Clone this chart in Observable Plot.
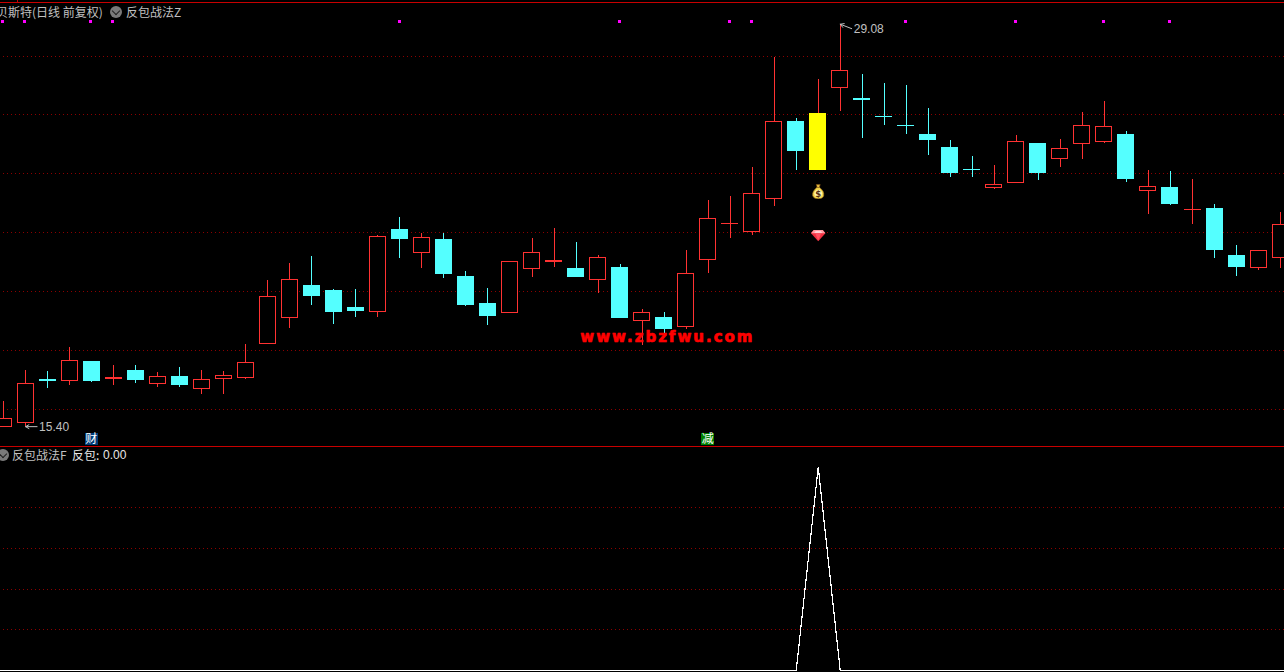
<!DOCTYPE html>
<html><head><meta charset="utf-8">
<script src="https://cdn.jsdelivr.net/npm/d3@7"></script>
<script src="https://cdn.jsdelivr.net/npm/@observablehq/plot@0.6"></script>
<style>
html,body{margin:0;padding:0;background:#000;overflow:hidden}
#stage{position:relative;width:1284px;height:672px;background:#000;overflow:hidden;font-family:"Noto Sans CJK SC","Noto Sans",sans-serif}
#stage svg{position:absolute;left:0;display:block}
.lbl{position:absolute;font-size:12px;line-height:14px;color:#c0c0c0;white-space:pre}
.sep{position:absolute;background:#c80000}
.knob{position:absolute;width:12px;height:12px;border-radius:50%;background:#7a7a7a}
.knob i{position:absolute;left:3px;top:1.5px;width:5px;height:5px;border-right:1px solid #222;border-bottom:1px solid #222;transform:rotate(45deg)}
</style></head><body><div id="stage"></div>
<script>
// Daily prices
const openPrice = [15.39,15.53,17.00,16.95,17.62,17.02,17.31,16.85,17.11,16.68,17.02,17.05,18.21,19.09,20.20,20.03,19.45,19.30,22.10,21.30,21.76,20.50,19.59,19.26,20.76,21.00,20.78,20.39,20.81,18.99,19.11,18.79,21.07,22.29,22.02,23.14,25.77,26.05,26.91,26.56,25.94,25.64,25.33,24.89,24.14,23.51,23.68,25.03,24.50,25.01,25.08,25.33,23.41,23.53,22.77,22.82,21.22,20.79,21.13];
const closePrice = [15.66,16.85,16.94,17.63,16.94,17.05,16.97,17.09,16.80,16.99,17.12,17.56,19.81,20.39,19.82,19.28,19.32,21.85,21.76,21.81,20.57,19.52,19.15,21.00,21.30,21.03,20.47,21.13,19.08,19.26,18.70,20.59,22.46,22.30,23.31,25.76,24.75,24.11,27.49,26.49,25.91,25.60,25.13,24.01,24.11,23.62,25.08,24.01,24.84,25.62,25.59,23.80,23.55,22.95,22.78,21.39,20.81,21.37,22.26];
const highPrice = [16.26,17.31,17.28,18.09,17.62,17.48,17.48,17.24,17.41,17.31,17.28,18.19,20.37,20.95,21.18,20.06,20.06,21.90,22.51,21.97,21.97,20.67,20.10,21.01,21.80,22.14,21.66,21.22,20.91,19.38,19.28,21.39,23.09,23.22,24.21,27.95,25.88,27.20,29.08,27.37,27.07,27.00,26.22,25.13,24.58,24.28,25.30,25.03,25.16,26.08,26.45,25.43,24.11,24.07,23.80,22.95,21.56,21.39,22.68];
const lowPrice = [15.39,15.40,16.71,16.80,16.90,16.80,16.87,16.73,16.73,16.49,16.49,17.00,18.21,18.74,19.52,18.87,19.11,19.11,21.12,20.78,20.44,19.48,18.84,19.26,20.47,20.81,20.47,19.93,19.08,18.16,18.53,18.70,20.61,21.80,21.90,22.88,24.11,24.11,26.11,25.20,25.64,25.33,24.62,23.87,23.87,23.46,23.68,23.77,24.21,24.48,25.03,23.70,22.61,22.92,22.27,21.12,20.50,20.71,20.78];
// index of the session painted yellow
const highlightDay = 37;
// lower pane: 反包 signal, session -1 to 59
const signal = [0,0,0,0,0,0,0,0,0,0,0,0,0,0,0,0,0,0,0,0,0,0,0,0,0,0,0,0,0,0,0,0,0,0,0,0,0,0,1,0,0,0,0,0,0,0,0,0,0,0,0,0,0,0,0,0,0,0,0,0,0];
const priceGrid = [16,18,20,22,24,26,28];
const signalGrid = [0.2,0.4,0.6,0.8];
const markerDays = [0,1,4,5,18,28,33,34,41,46,50,53];
const markerPrice = 29.16;
const tags = [{day:4,text:"财",bg:"#003c78"},{day:32,text:"减",bg:"#008000"}];
const tagPrice = 14.98;
const extremes = [{day:38,price:29.08,label:"29.08",labelPrice:28.91},{day:1,price:15.40,label:"15.40",labelPrice:15.37}];
const watermark = "www.zbzfwu.com";

const RED="#ff3232", CYAN="#54ffff", YEL="#ffff00", GRID="#8c0000", GREY="#c0c0c0";
const candles = openPrice.map((o,i)=>({i,open:o,close:closePrice[i],high:highPrice[i],low:lowPrice[i],up:closePrice[i]>=o}));
const isYel = d=>d.i===highlightDay;
const hollow = candles.filter(d=>d.up);
const filled = candles.filter(d=>!d.up && !isYel(d));
const yellow = candles.filter(isYel);
const crisp = {shapeRendering:"crispEdges"};
const xDomain = [-0.1408,58.178];
const gridStart = -0.00454;

const bagSvg = `<svg xmlns='http://www.w3.org/2000/svg' viewBox='0 0 12 15'><path d='M4 0.5h4l-1 3h-2z' fill='#e8c040' stroke='#7a4a10' stroke-width='.6'/><path d='M4.5 3.5h3C10.5 6 12 8.5 11.5 11.5 11 14 8.5 14.7 6 14.7S1 14 .5 11.5C0 8.5 1.5 6 4.5 3.5z' fill='#f4d84c' stroke='#9a6a20' stroke-width='.7'/><ellipse cx='6' cy='9.4' rx='3.8' ry='3.6' fill='#fff6b0'/><text x='6' y='12.4' font-size='8.5' font-weight='bold' text-anchor='middle' font-family='DejaVu Sans' fill='#5a3010'>$</text></svg>`;
const gemSvg = `<svg xmlns='http://www.w3.org/2000/svg' viewBox='0 0 15 12'><path d='M3 .5h9l2.7 3.4L7.5 11.8.3 3.9z' fill='#f03040'/><path d='M3 .5h9l2.7 3.4H.3z' fill='#ff9aa0'/><path d='M4.5 3.9h6L7.5 11z' fill='#ff5060'/><path d='M5 1.5h5l1.5 2h-8z' fill='#ffffff' opacity='.55'/></svg>`;
const uri = s=>"data:image/svg+xml;utf8,"+encodeURIComponent(s);
const icons = [{day:highlightDay,price:23.39,src:uri(bagSvg),w:13,h:15},{day:highlightDay,price:21.90,src:uri(gemSvg),w:15,h:12}];

const upperPane = Plot.plot({
  width:1284,height:447,margin:0,
  style:{background:"#000"},
  x:{axis:null,domain:xDomain,range:[0,1284]},
  y:{axis:null,domain:[16,28],range:[408.5,55.5]},
  marks:[
    Plot.ruleY(priceGrid,{x1:gridStart,x2:58.2,stroke:GRID,strokeDasharray:"1,3",...crisp}),
    Plot.ruleX(filled,{x:"i",y1:"low",y2:"high",stroke:CYAN,...crisp}),
    Plot.ruleX(hollow,{x:"i",y1:"low",y2:"high",stroke:RED,...crisp}),
    Plot.ruleX(yellow,{x:"i",y1:"low",y2:"high",stroke:RED,...crisp}),
    Plot.rect(hollow,{x1:d=>d.i-0.363,x2:d=>d.i+0.363,y1:"open",y2:"close",fill:"#000",stroke:RED,...crisp}),
    Plot.rect(filled,{x1:d=>d.i-0.386,x2:d=>d.i+0.386,y1:"open",y2:"close",fill:CYAN,...crisp}),
    Plot.rect(yellow,{x1:d=>d.i-0.386,x2:d=>d.i+0.386,y1:"open",y2:"close",fill:YEL,...crisp}),
    Plot.dot(markerDays,{x:d=>d,y:()=>markerPrice,dx:-0.8,symbol:"square",r:1.75,fill:"#ff00ff",...crisp}),
    Plot.image(icons,{x:"day",y:"price",src:"src",width:"w",height:"h"}),
    Plot.arrow(extremes,{x1:d=>d.day+0.52,y1:d=>d.price-(d.day===38?0.15:0),x2:"day",y2:"price",bend:0,stroke:GREY,strokeWidth:1,headLength:6}),
    Plot.text(extremes,{x:"day",y:"labelPrice",dx:13.5,text:"label",textAnchor:"start",fill:GREY,fontSize:12,fontFamily:"Liberation Sans"}),
    Plot.dot(tags,{x:"day",y:()=>tagPrice,dx:-0.4,symbol:"square",r:7.3,fill:"bg",...crisp}),
    Plot.text(tags,{x:"day",y:()=>tagPrice,dx:-0.4,text:"text",fill:"#fff",fontSize:12,fontFamily:"Noto Sans CJK SC"}),
    Plot.text([watermark],{x:()=>30.15,y:()=>18.45,text:d=>d,fill:"#ff0000",stroke:"#ff0000",strokeWidth:0.7,fontSize:15,fontWeight:"bold",fontFamily:"DejaVu Sans"})
  ]
});
upperPane.style.top="0px";
d3.select(upperPane).selectAll("text").filter(function(){return this.textContent===watermark;}).style("letter-spacing","2px");

const sigRows = signal.map((v,k)=>({x:k-1,v}));
const lowerPane = Plot.plot({
  width:1284,height:225,margin:0,
  style:{background:"#000"},
  x:{axis:null,domain:xDomain,range:[0,1284]},
  y:{axis:null,domain:[0,1],range:[223.2,19.53]},
  marks:[
    Plot.ruleY(signalGrid,{x1:gridStart,x2:58.2,stroke:GRID,strokeDasharray:"1,3",...crisp}),
    Plot.line(sigRows,{x:"x",y:"v",stroke:"#fff",strokeWidth:1.2,curve:"linear",...crisp})
  ]
});
lowerPane.style.top="447px";

const stage=document.getElementById("stage");
stage.append(upperPane,lowerPane);
function div(cls,css,txt){const e=document.createElement("div");e.className=cls;e.style.cssText=css;if(txt)e.textContent=txt;stage.append(e);return e;}
div("sep","left:0;top:2px;width:1284px;height:1px");
div("sep","left:17px;top:0;width:1px;height:2px");
div("sep","left:0;top:446px;width:1284px;height:1px");
div("lbl","left:-4px;top:5px","贝斯特(日线 前复权)");
div("knob","left:110px;top:6px").innerHTML="<i></i>";
div("lbl","left:126px;top:5px","反包战法Z");
div("knob","left:-3px;top:449px").innerHTML="<i></i>";
div("lbl","left:12px;top:448px","反包战法F");
div("lbl","left:72px;top:448px;color:#e8e8e8","反包:");
div("lbl","left:103px;top:448px;color:#e8e8e8;font-family:'Liberation Sans'","0.00");
</script></body></html>
